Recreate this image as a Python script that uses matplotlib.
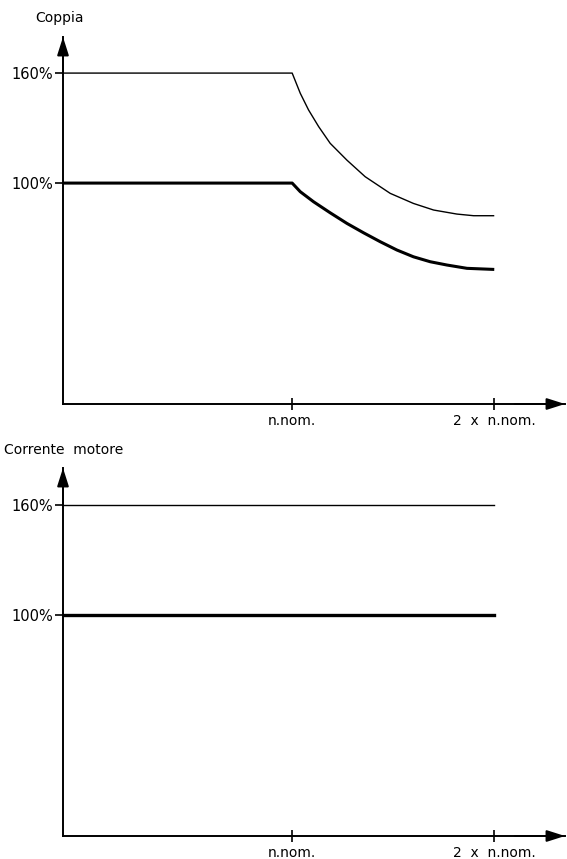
import numpy as np
import matplotlib.pyplot as plt

# Coppia: limite alto (sottile) e coppia nominale (spessa)
vel_max = [-0.134, 1.0, 1.040, 1.081, 1.131, 1.188, 1.271, 1.361, 1.485,
           1.600, 1.700, 1.815, 1.898, 2.0]
coppia_max = [160, 160, 149.0, 139.9, 130.8, 121.7, 112.5, 103.5, 94.4,
              88.9, 85.3, 83.1, 82.2, 82.2]
vel_nom = [-0.134, 1.0, 1.040, 1.106, 1.188, 1.271, 1.353, 1.436, 1.518,
           1.600, 1.683, 1.766, 1.865, 2.0]
coppia_nom = [100, 100, 95.3, 89.8, 83.8, 78.0, 72.9, 68.0, 63.5,
              59.8, 57.1, 55.3, 53.5, 52.9]

# Corrente motore: costante
velocita_corr = [-0.134, 2.0]
corrente_max = [160, 160]
corrente_nom = [100, 100]

xtick_pos = [1.0, 2.0]
xtick_lab = ['n.nom.', '2  x  n.nom.']
ytick_pos = [100, 160]
ytick_lab = ['100%', '160%']

W, H = 567, 859
fig = plt.figure(figsize=(W / 100, H / 100), dpi=100)
plt.rcParams['font.family'] = ['DejaVu Sans']

XLIM = (-0.134, 2.35)


def assi(px_bottom, px_top):
    ax = fig.add_axes([63 / W, (H - px_bottom) / H, (565 - 63) / W,
                       (px_bottom - px_top) / H])
    y0 = -20.5
    scala = 60 / 110.0
    ax.set_xlim(*XLIM)
    ax.set_ylim(y0, y0 + (px_bottom - px_top) * scala)
    for s in ['top', 'right']:
        ax.spines[s].set_visible(False)
    for s in ['left', 'bottom']:
        ax.spines[s].set_linewidth(1.4)
    ax.set_xticks(xtick_pos)
    ax.set_xticklabels(xtick_lab, fontsize=10)
    ax.set_yticks(ytick_pos)
    ax.set_yticklabels(ytick_lab, fontsize=10.5)
    ax.tick_params(axis='x', direction='inout', length=9, width=1.2, pad=3)
    ax.tick_params(axis='y', direction='out', length=6, width=1.2, pad=1)
    # frecce
    ax.annotate('', xy=(1.0, 0), xytext=(0.9, 0), xycoords='axes fraction',
                arrowprops=dict(arrowstyle='-|>,head_length=1.1,head_width=0.35',
                                color='black', lw=1.4, shrinkA=0, shrinkB=0))
    ax.annotate('', xy=(0, 1.0), xytext=(0, 0.9), xycoords='axes fraction',
                arrowprops=dict(arrowstyle='-|>,head_length=1.1,head_width=0.35',
                                color='black', lw=1.4, shrinkA=0, shrinkB=0))
    return ax


ax1 = assi(404, 37)
fig.text(35 / W, 1 - 18 / H, 'Coppia', fontsize=10, ha='left', va='center')
ax1.plot(vel_max, coppia_max, color='black', lw=1.0, solid_capstyle='butt')
ax1.plot(vel_nom, coppia_nom, color='black', lw=2.2, solid_capstyle='butt')

ax2 = assi(836, 468)
fig.text(4 / W, 1 - 450 / H, 'Corrente  motore', fontsize=10, ha='left',
         va='center')
ax2.plot(velocita_corr, corrente_max, color='black', lw=1.0)
ax2.plot(velocita_corr, corrente_nom, color='black', lw=2.4)

fig.savefig('out.png', dpi=100)
